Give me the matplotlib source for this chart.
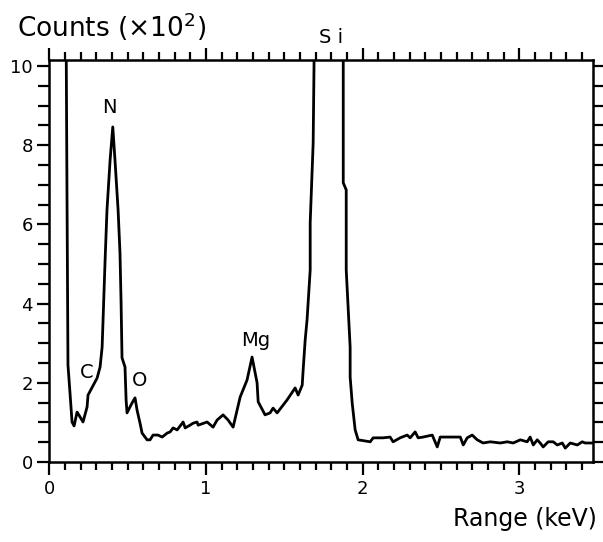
import matplotlib
matplotlib.use("Agg")
import matplotlib.pyplot as plt
from matplotlib.ticker import MultipleLocator

# Spectrum trace (energy in keV, counts in units of 10^2)
energy = [0.107, 0.113, 0.119, 0.132, 0.145, 0.158, 0.177, 0.196, 0.215, 0.241,
          0.247, 0.305, 0.324, 0.337, 0.343, 0.356, 0.368, 0.388, 0.405, 0.419,
          0.439, 0.451, 0.458, 0.464, 0.483, 0.490, 0.496, 0.515, 0.528, 0.547,
          0.560, 0.579, 0.592, 0.624, 0.643, 0.662, 0.694, 0.720, 0.752, 0.771,
          0.790, 0.816, 0.854, 0.867, 0.898, 0.918, 0.943, 0.950, 1.007, 1.045,
          1.071, 1.109, 1.141, 1.173, 1.218, 1.262, 1.294, 1.326, 1.333, 1.377,
          1.409, 1.428, 1.454, 1.518, 1.569, 1.588, 1.614, 1.620, 1.633, 1.645,
          1.665, 1.665, 1.684, 1.690, 1.780, 1.876, 1.876, 1.895, 1.895, 1.920,
          1.920, 1.933, 1.952, 1.971, 2.048, 2.067, 2.131, 2.175, 2.194, 2.239,
          2.284, 2.303, 2.335, 2.354, 2.386, 2.444, 2.476, 2.495, 2.559, 2.623,
          2.642, 2.667, 2.699, 2.731, 2.769, 2.814, 2.878, 2.923, 2.961, 3.006,
          3.050, 3.069, 3.089, 3.114, 3.133, 3.152, 3.184, 3.216, 3.242, 3.274,
          3.293, 3.325, 3.370, 3.401, 3.420, 3.471]
counts = [11.0, 6.60, 2.45, 1.74, 1.01, 0.91, 1.26, 1.14, 1.01, 1.39,
          1.69, 2.12, 2.40, 2.90, 3.59, 5.10, 6.36, 7.63, 8.46, 7.63,
          6.36, 5.28, 4.02, 2.63, 2.40, 1.57, 1.24, 1.39, 1.49, 1.62,
          1.31, 0.98, 0.73, 0.56, 0.56, 0.68, 0.68, 0.63, 0.73, 0.76,
          0.86, 0.81, 1.01, 0.86, 0.93, 0.98, 1.01, 0.93, 1.01, 0.88,
          1.06, 1.19, 1.06, 0.88, 1.64, 2.07, 2.65, 2.00, 1.52, 1.19,
          1.24, 1.36, 1.24, 1.57, 1.87, 1.69, 1.94, 2.32, 3.08, 3.59,
          4.85, 6.04, 8.06, 10.2, 13.0, 10.7, 7.05, 6.87, 4.85, 2.90,
          2.15, 1.49, 0.81, 0.56, 0.51, 0.61, 0.61, 0.63, 0.51, 0.61,
          0.68, 0.61, 0.76, 0.61, 0.63, 0.68, 0.38, 0.63, 0.63, 0.63,
          0.43, 0.61, 0.68, 0.56, 0.48, 0.51, 0.48, 0.51, 0.48, 0.56,
          0.51, 0.63, 0.43, 0.56, 0.48, 0.38, 0.51, 0.51, 0.43, 0.48,
          0.35, 0.48, 0.43, 0.51, 0.48, 0.48]

# Peak labels
peak_names = ["C", "N", "O", "Mg", "S i"]
peak_x = [0.241, 0.381, 0.579, 1.32, 1.80]
peak_y = [2.27, 8.94, 2.07, 3.08, 10.73]

x_ticks = [0, 1, 2, 3]
y_ticks = [0, 2, 4, 6, 8, 10]

fig = plt.figure(figsize=(6.03, 5.42), dpi=100)
ax = fig.add_axes([0.0818, 0.1476, 0.9016, 0.7417])

ax.plot(energy, counts, color="black", lw=2.0, solid_joinstyle="round")

ax.set_xlim(0, 3.47)
ax.set_ylim(0, 10.15)

ax.xaxis.set_major_locator(MultipleLocator(1))
ax.xaxis.set_minor_locator(MultipleLocator(0.1))
ax.yaxis.set_major_locator(MultipleLocator(2))
ax.yaxis.set_minor_locator(MultipleLocator(0.5))
ax.set_xticks(x_ticks)
ax.set_yticks(y_ticks)
ax.set_xticklabels([str(v) for v in x_ticks])
ax.set_yticklabels([str(v) for v in y_ticks])

ax.tick_params(axis="both", which="both", direction="out", width=1.6, color="black",
               labelsize=13, top=True, right=True, labelright=False, labeltop=False)
ax.tick_params(axis="x", which="major", length=9, pad=4)
ax.tick_params(axis="x", which="minor", length=6)
ax.tick_params(axis="y", which="major", length=9, pad=3)
ax.tick_params(axis="y", which="minor", length=8)

for s in ax.spines.values():
    s.set_linewidth(1.8)

for name, px, py in zip(peak_names, peak_x, peak_y):
    ax.text(px, py, name, ha="center", va="center", fontsize=14, clip_on=False)

fig.text(0.028, 0.95, "Counts (×10$^2$)", ha="left", va="center", fontsize=19)
fig.text(0.99, 0.042, "Range (keV)", ha="right", va="center", fontsize=17)

fig.savefig("out.png", dpi=100)
